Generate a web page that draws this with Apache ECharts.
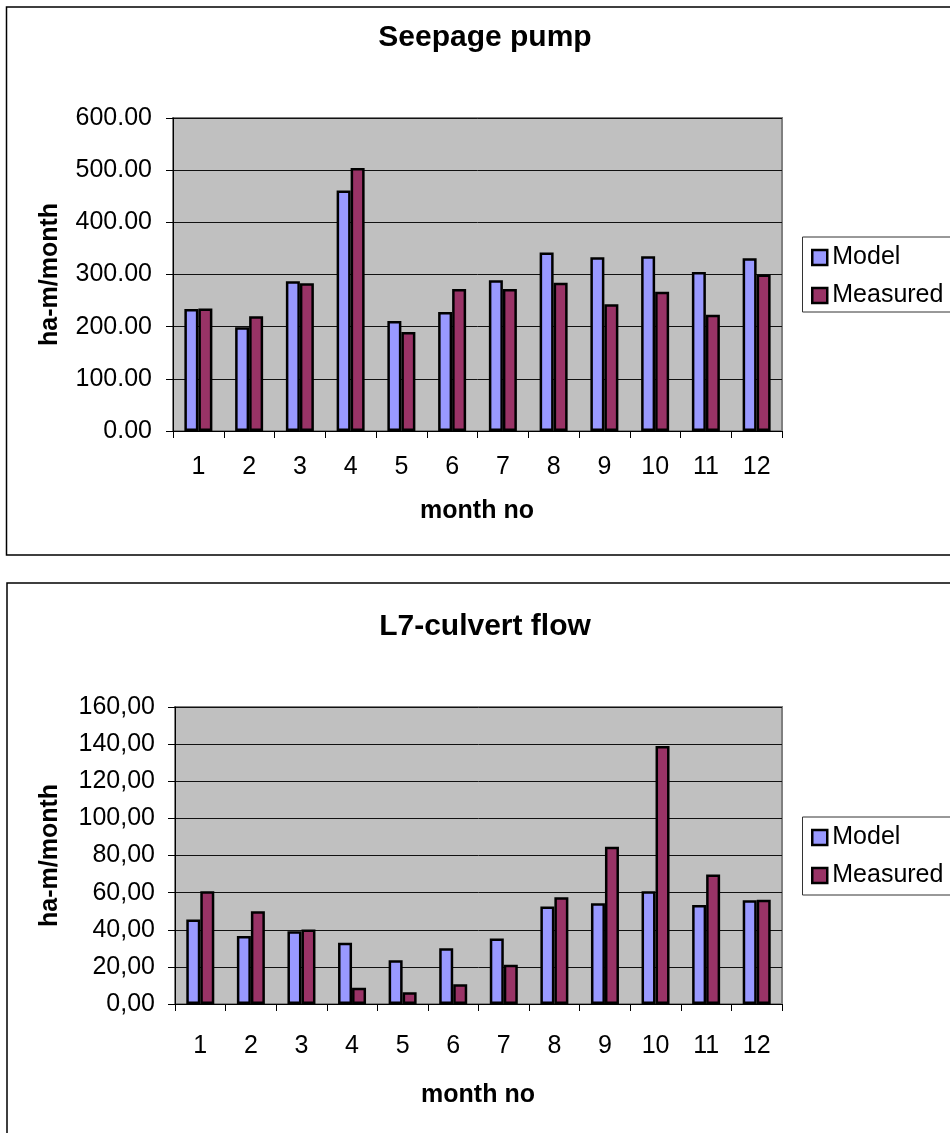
<!DOCTYPE html>
<html>
<head>
<meta charset="utf-8">
<script src="https://cdn.jsdelivr.net/npm/echarts@6/dist/echarts.min.js"></script>
<style>
  html, body { margin: 0; padding: 0; background: #ffffff; }
  #chart { width: 950px; height: 1133px; }
</style>
</head>
<body>
<div id="chart"></div>
<script>
// Month numbers on the category axis
const months = ['1', '2', '3', '4', '5', '6', '7', '8', '9', '10', '11', '12'];

// Seepage pump volumes, ha-m/month
const seepageModel    = [234, 199, 287, 461, 211, 228, 289, 342, 333, 335, 305, 331];
const seepageMeasured = [235, 220, 283, 504, 190, 272, 272, 284, 243, 267, 223, 300];

// L7-culvert flow volumes, ha-m/month
const culvertModel    = [45.5, 36.7, 39.2, 33.0, 23.6, 30.1, 35.3, 52.5, 54.3, 60.7, 53.4, 55.9];
const culvertMeasured = [60.7, 50.0, 40.1, 8.8, 6.3, 10.7, 21.1, 57.5, 84.7, 139.0, 69.7, 56.1];

// Value-axis tick labels
const seepageTicks = ['0.00', '100.00', '200.00', '300.00', '400.00', '500.00', '600.00'];
const culvertTicks = ['0,00', '20,00', '40,00', '60,00', '80,00', '100,00', '120,00', '140,00', '160,00'];

const FONT = '"Liberation Sans", Arial, sans-serif';
const MODEL_COLOR = '#9999ff';
const MEASURED_COLOR = '#993366';

const chart = echarts.init(document.getElementById('chart'), null, { renderer: 'canvas' });

function categoryAxis(gridIndex, margin) {
  return {
    type: 'category',
    gridIndex: gridIndex,
    data: months,
    boundaryGap: true,
    axisLine: { show: true, lineStyle: { color: '#000', width: 1 } },
    axisTick: { show: true, length: 7, inside: false, lineStyle: { color: '#000', width: 1 } },
    axisLabel: { color: '#000', fontFamily: FONT, fontSize: 25, margin: margin },
    splitLine: { show: false }
  };
}

function valueAxis(gridIndex, max, interval, ticks, margin) {
  return {
    type: 'value',
    gridIndex: gridIndex,
    min: 0,
    max: max,
    interval: interval,
    axisLine: { show: true, lineStyle: { color: '#000', width: 1 } },
    axisTick: { show: true, length: 7, inside: false, lineStyle: { color: '#000', width: 1 } },
    axisLabel: {
      color: '#000', fontFamily: FONT, fontSize: 25, margin: margin,
      formatter: function (v) { return ticks[Math.round(v / interval)]; }
    },
    splitLine: { show: true, lineStyle: { color: '#111', width: 1 } }
  };
}

function barSeries(name, data, color, axisIndex) {
  return {
    type: 'bar',
    name: name,
    data: data,
    xAxisIndex: axisIndex,
    yAxisIndex: axisIndex,
    barWidth: 14,
    barGap: '0%',
    itemStyle: { color: color, borderColor: '#000', borderWidth: 2.5 },
    emphasis: { disabled: true },
    animation: false
  };
}

function legend(top) {
  return {
    orient: 'vertical',
    left: 811,
    top: top,
    itemWidth: 15,
    itemHeight: 15,
    itemGap: 13,
    padding: 0,
    icon: 'rect',
    selectedMode: false,
    itemStyle: { borderColor: '#000', borderWidth: 2.5 },
    textStyle: { color: '#000', fontFamily: FONT, fontSize: 25, lineHeight: 24, padding: [0, 0, 0, 0] },
    data: ['Model', 'Measured']
  };
}

function boldText(text, x, y, size, rotate) {
  return {
    type: 'text',
    x: x, y: y,
    rotation: rotate ? Math.PI / 2 : 0,
    style: {
      text: text, fill: '#000',
      font: 'bold ' + size + 'px ' + FONT,
      textAlign: 'center', textVerticalAlign: 'middle'
    },
    z: 10
  };
}

const option = {
  backgroundColor: '#ffffff',
  animation: false,
  grid: [
    { left: 173, top: 118, width: 609, height: 313, show: true, backgroundColor: '#c0c0c0', borderColor: '#808080', borderWidth: 2, containLabel: false },
    { left: 175, top: 707, width: 607, height: 297, show: true, backgroundColor: '#c0c0c0', borderColor: '#808080', borderWidth: 2, containLabel: false }
  ],
  xAxis: [categoryAxis(0, 24), categoryAxis(1, 30)],
  yAxis: [
    valueAxis(0, 600, 100, seepageTicks, 21),
    valueAxis(1, 160, 20, culvertTicks, 20)
  ],
  legend: [legend(245), legend(825)],
  series: [
    barSeries('Model', seepageModel, MODEL_COLOR, 0),
    barSeries('Measured', seepageMeasured, MEASURED_COLOR, 0),
    barSeries('Model', culvertModel, MODEL_COLOR, 1),
    barSeries('Measured', culvertMeasured, MEASURED_COLOR, 1)
  ],
  graphic: [
    // outer frames of the two charts
    { type: 'rect', shape: { x: 6.5, y: 7, width: 980, height: 548 }, style: { fill: null, stroke: '#000', lineWidth: 1.5 }, z: 0 },
    { type: 'rect', shape: { x: 7, y: 583, width: 980, height: 600 }, style: { fill: null, stroke: '#000', lineWidth: 1.5 }, z: 0 },
    // legend boxes
    { type: 'rect', shape: { x: 802.5, y: 237, width: 200, height: 75 }, style: { fill: null, stroke: '#333', lineWidth: 1 }, z: 0 },
    { type: 'rect', shape: { x: 802.5, y: 817, width: 200, height: 78 }, style: { fill: null, stroke: '#333', lineWidth: 1 }, z: 0 },
    // titles
    boldText('Seepage pump', 485, 38, 30, false),
    boldText('L7-culvert flow', 485, 627, 30, false),
    // axis names
    boldText('ha-m/month', 50, 274.5, 25, true),
    boldText('month no', 477, 511, 25, false),
    boldText('ha-m/month', 50, 855.5, 25, true),
    boldText('month no', 478, 1095, 25, false)
  ]
};

chart.setOption(option);
</script>
</body>
</html>
